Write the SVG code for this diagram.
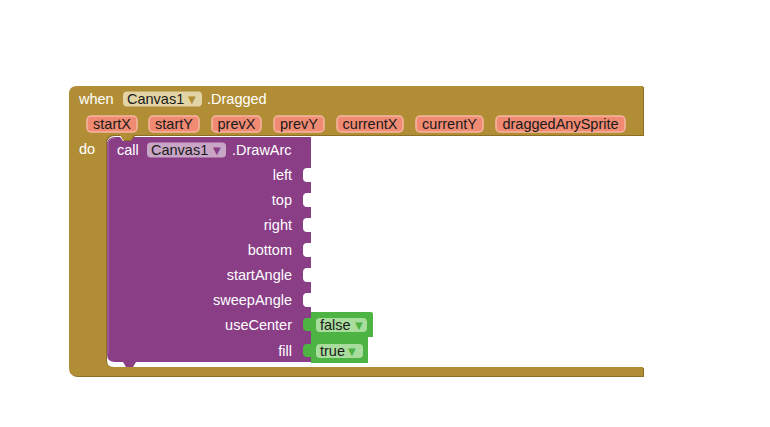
<svg xmlns="http://www.w3.org/2000/svg" width="770" height="427" viewBox="0 0 770 427">
<style>
text{font-family:"Liberation Sans",Arial,sans-serif;font-size:14.5px}
.lbl{fill:#ffffff}
.dark{fill:#1a1a1a}
.end{text-anchor:end}
.mid{text-anchor:middle}
.arr{font-family:"DejaVu Sans",sans-serif;font-size:10px}
.param{fill:#f08a72;stroke:#f6b6a2;stroke-width:1.5}
.notch{fill:#ffffff}
.gtab{fill:#4db443}
</style>
<rect width="770" height="427" fill="#ffffff"/>
<g id="event-dragged">
<path d="M70,95 Q70,87 78,87 H644 V136 H135 l-3,5 h-8 l-3,-5 H115 Q107,136 107,144 V360 Q107,368 115,368 H644 V377 H78 Q70,377 70,369 Z" fill="#8c6f27"/>
<path d="M69,94 Q69,86 77,86 H643 V135 H134 l-3,5 h-8 l-3,-5 H114 Q106,135 106,143 V359 Q106,367 114,367 H643 V376 H77 Q69,376 69,368 Z" fill="#b18e35"/>
<text class="lbl" x="79" y="104">when</text>
<rect x="123" y="91.5" width="79" height="15" rx="4" fill="#e2d4a5"/>
<text class="dark" x="127" y="104">Canvas1</text>
<text class="arr" x="188" y="103" fill="#b18e35">▼</text>
<text class="lbl" x="207" y="104">.Dragged</text>
<rect class="param" x="87" y="116" width="50" height="16" rx="4"/>
<text class="dark mid" x="112" y="129">startX</text>
<rect class="param" x="149" y="116" width="50" height="16" rx="4"/>
<text class="dark mid" x="174" y="129">startY</text>
<rect class="param" x="212" y="116" width="49" height="16" rx="4"/>
<text class="dark mid" x="236.5" y="129">prevX</text>
<rect class="param" x="274" y="116" width="50" height="16" rx="4"/>
<text class="dark mid" x="299" y="129">prevY</text>
<rect class="param" x="337" y="116" width="66" height="16" rx="4"/>
<text class="dark mid" x="370" y="129">currentX</text>
<rect class="param" x="416" y="116" width="67" height="16" rx="4"/>
<text class="dark mid" x="449.5" y="129">currentY</text>
<rect class="param" x="496" y="116" width="129" height="16" rx="4"/>
<text class="dark mid" x="560.5" y="129">draggedAnySprite</text>
<text class="lbl" x="79" y="154">do</text>
</g>
<g id="call-drawarc">
<path d="M107,145 Q107,137 115,137 H120 l3,4 h8 l3,-4 H311 V362 H136 l-3,5 h-7 l-3,-5 H115 Q107,362 107,354 Z" fill="#8a3e86"/>
<path d="M108,354 V145 Q108,138 115,138" fill="none" stroke="#a76aa3" stroke-width="1"/>
<text class="lbl" x="117" y="155">call</text>
<rect x="147" y="142.5" width="79" height="15" rx="4" fill="#c9a6c6"/>
<text class="dark" x="151" y="155">Canvas1</text>
<text class="arr" x="213" y="154" fill="#8a3e86">▼</text>
<text class="lbl" x="232" y="155">.DrawArc</text>
<text class="lbl end" x="292" y="180">left</text>
<text class="lbl end" x="292" y="205">top</text>
<text class="lbl end" x="292" y="230">right</text>
<text class="lbl end" x="292" y="255">bottom</text>
<text class="lbl end" x="292" y="280">startAngle</text>
<text class="lbl end" x="292" y="305">sweepAngle</text>
<text class="lbl end" x="292" y="330">useCenter</text>
<text class="lbl end" x="292" y="355.5">fill</text>
<path class="notch" d="M311,168 h-4 c-3,0 -4,2 -4,4 v6 c0,2 1,4 4,4 h4 z"/>
<path class="notch" d="M311,193 h-4 c-3,0 -4,2 -4,4 v6 c0,2 1,4 4,4 h4 z"/>
<path class="notch" d="M311,218 h-4 c-3,0 -4,2 -4,4 v6 c0,2 1,4 4,4 h4 z"/>
<path class="notch" d="M311,243 h-4 c-3,0 -4,2 -4,4 v6 c0,2 1,4 4,4 h4 z"/>
<path class="notch" d="M311,268 h-4 c-3,0 -4,2 -4,4 v6 c0,2 1,4 4,4 h4 z"/>
<path class="notch" d="M311,293 h-4 c-3,0 -4,2 -4,4 v6 c0,2 1,4 4,4 h4 z"/>
</g>
<g id="logic-false">
<path class="gtab" d="M311,312 H371 Q373,312 373,314 V337 H311 V331 h-4 c-3,0 -4,-2 -4,-4 v-5 c0,-2 1,-4 4,-4 h4 Z"/>
<rect x="316" y="318" width="51" height="14" rx="4" fill="#a9dd9e"/>
<text class="dark" x="320" y="330">false</text>
<text class="arr" x="355" y="329" fill="#4db443">▼</text>
</g>
<g id="logic-true">
<path class="gtab" d="M311,337 H368 V363 H311 V357 h-4 c-3,0 -4,-2 -4,-4 v-5 c0,-2 1,-4 4,-4 h4 Z"/>
<rect x="316" y="344" width="47" height="14" rx="4" fill="#a9dd9e"/>
<text class="dark" x="320" y="356">true</text>
<text class="arr" x="348" y="355" fill="#4db443">▼</text>
</g>
<g id="connectors"></g>
</svg>
